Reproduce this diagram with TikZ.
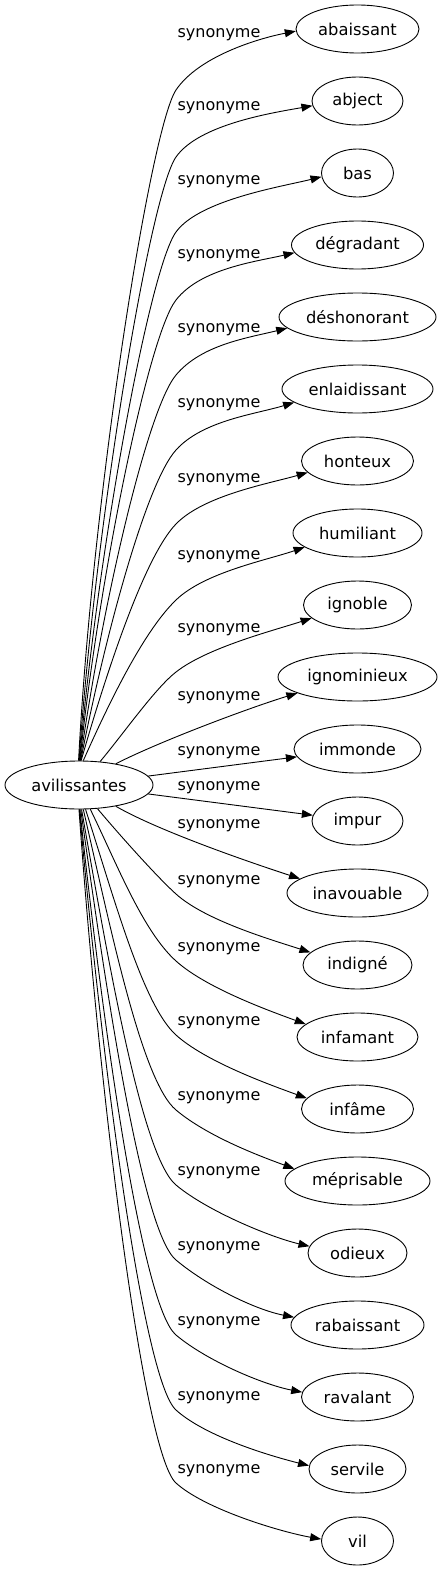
\documentclass[tikz,border=0pt]{standalone}
\usepackage{fontspec}
\setmainfont{DejaVu Sans}
\usetikzlibrary{arrows.meta,calc,shapes.geometric}
\tikzset{
  word/.style={ellipse, draw, line width=0.9pt, minimum height=48pt, inner sep=0pt,
    font=\fontsize{16.3}{19}\selectfont},
  synlabel/.style={inner sep=0pt, font=\fontsize{16}{19}\selectfont},
  synarrow/.style={draw, line width=0.9pt, -{Triangle[length=11pt,width=8pt]}},
}
% #1 target, #2 label y, #3 knee y, #4 knee angle, #5 start anchor, #6 start dir, #7 end anchor, #8 end dir
\newcommand\synup[8]{%
  \pgfmathsetmacro\synD{761-#3}%
  \pgfmathsetmacro\synC{0.4*\synD}%
  \pgfmathsetmacro\synA{min(0.3*\synD,45)}%
  \draw[synarrow] (src.#5) .. controls ($(src.#5)+(-#6:\synC)$) and ($(176,#3)+(180-#4:\synA)$) .. (176,#3)
     .. controls ($(176,#3)+(-#4:40)$) and ($(#1.#7)+(180-#8:40)$) .. (#1.#7);
  \node[synlabel] (lab#1) at (219,#2) {synonyme};
}
\newcommand\syndown[8]{%
  \pgfmathsetmacro\synD{#3-809}%
  \pgfmathsetmacro\synC{0.4*\synD}%
  \pgfmathsetmacro\synA{min(0.3*\synD,45)}%
  \draw[synarrow] (src.#5) .. controls ($(src.#5)+(#6:\synC)$) and ($(176,#3)+(180+#4:\synA)$) .. (176,#3)
     .. controls ($(176,#3)+(#4:40)$) and ($(#1.#7)+(180+#8:40)$) .. (#1.#7);
  \node[synlabel] (lab#1) at (219,#2) {synonyme};
}
\begin{document}
\begin{tikzpicture}[x=1pt,y=-1pt]
\useasboundingbox (0,0) rectangle (443,1571);
\node[word, minimum width=148pt] (src) at (79,785) {avilissantes};
\node[word, minimum width=123pt] (abaissant) at (357.5,29) {abaissant};
\node[word, minimum width=91pt] (abject) at (357.5,101) {abject};
\node[word, minimum width=72pt] (bas) at (357.5,173) {bas};
\node[word, minimum width=132pt] (degradant) at (357.5,245) {dégradant};
\node[word, minimum width=157pt] (deshonorant) at (357.5,317) {déshonorant};
\node[word, minimum width=151pt] (enlaidissant) at (357.5,389) {enlaidissant};
\node[word, minimum width=112pt] (honteux) at (357.5,461) {honteux};
\node[word, minimum width=129pt] (humiliant) at (357.5,533) {humiliant};
\node[word, minimum width=108pt] (ignoble) at (357.5,605) {ignoble};
\node[word, minimum width=159pt] (ignominieux) at (357.5,677) {ignominieux};
\node[word, minimum width=127pt] (immonde) at (357.5,749) {immonde};
\node[word, minimum width=91pt] (impur) at (357.5,821) {impur};
\node[word, minimum width=141pt] (inavouable) at (357.5,893) {inavouable};
\node[word, minimum width=109pt] (indigne) at (357.5,965) {indigné};
\node[word, minimum width=121pt] (infamant) at (357.5,1037) {infamant};
\node[word, minimum width=112pt] (infame) at (357.5,1109) {infâme};
\node[word, minimum width=145pt] (meprisable) at (357.5,1181) {méprisable};
\node[word, minimum width=99pt] (odieux) at (357.5,1253) {odieux};
\node[word, minimum width=133pt] (rabaissant) at (357.5,1325) {rabaissant};
\node[word, minimum width=112pt] (ravalant) at (357.5,1397) {ravalant};
\node[word, minimum width=97pt] (servile) at (357.5,1469) {servile};
\node[word, minimum width=72pt] (vil) at (357.5,1541) {vil};

\synup{abaissant}{35}{90}{56}{91}{87}{182}{11}
\synup{abject}{108}{157}{55}{90}{86}{186}{10}
\synup{bas}{182}{232}{54}{89}{85}{186}{14}
\synup{degradant}{256}{300}{52}{88}{84}{187}{13}
\synup{deshonorant}{330}{375}{50}{87}{82}{189}{14}
\synup{enlaidissant}{405}{450}{48}{86}{79}{192}{17}
\synup{honteux}{480}{524}{46}{85}{74}{193}{16}
\synup{humiliant}{557}{600}{44}{80}{66}{195}{19}
\synup{ignoble}{630}{672}{38}{48}{50}{196}{18}

\draw[synarrow] (src.30) .. controls ($(src.30)+(-27:50)$) and ($(ignominieux.195)+(163:50)$) .. (ignominieux.195);
\node[synlabel] (labignominieux) at (219,698) {synonyme};
\draw[synarrow] (src) -- (immonde);
\node[synlabel] (labimmonde) at (219,753) {synonyme};
\draw[synarrow] (src) -- (impur);
\node[synlabel] (labimpur) at (219,788) {synonyme};
\draw[synarrow] (src.-30) .. controls ($(src.-30)+(30:50)$) and ($(inavouable.166)+(198:50)$) .. (inavouable.166);
\node[synlabel] (labinavouable) at (219,826) {synonyme};

\syndown{indigne}{882}{894}{42}{-52}{50}{165}{18}
\syndown{infamant}{949}{961}{42}{-65}{64}{166}{20}
\syndown{infame}{1023}{1035}{42}{-75}{72}{168}{20}
\syndown{meprisable}{1098}{1110}{40}{-80}{77}{169}{20}
\syndown{odieux}{1173}{1185}{40}{-84}{80}{172}{13}
\syndown{rabaissant}{1248}{1260}{40}{-86}{82}{173}{11}
\syndown{ravalant}{1323}{1335}{40}{-88}{84}{175}{11}
\syndown{servile}{1398}{1410}{42}{-89}{85}{176}{14}
\syndown{vil}{1471}{1483}{42}{-90}{86}{177}{10}
\end{tikzpicture}
\end{document}
